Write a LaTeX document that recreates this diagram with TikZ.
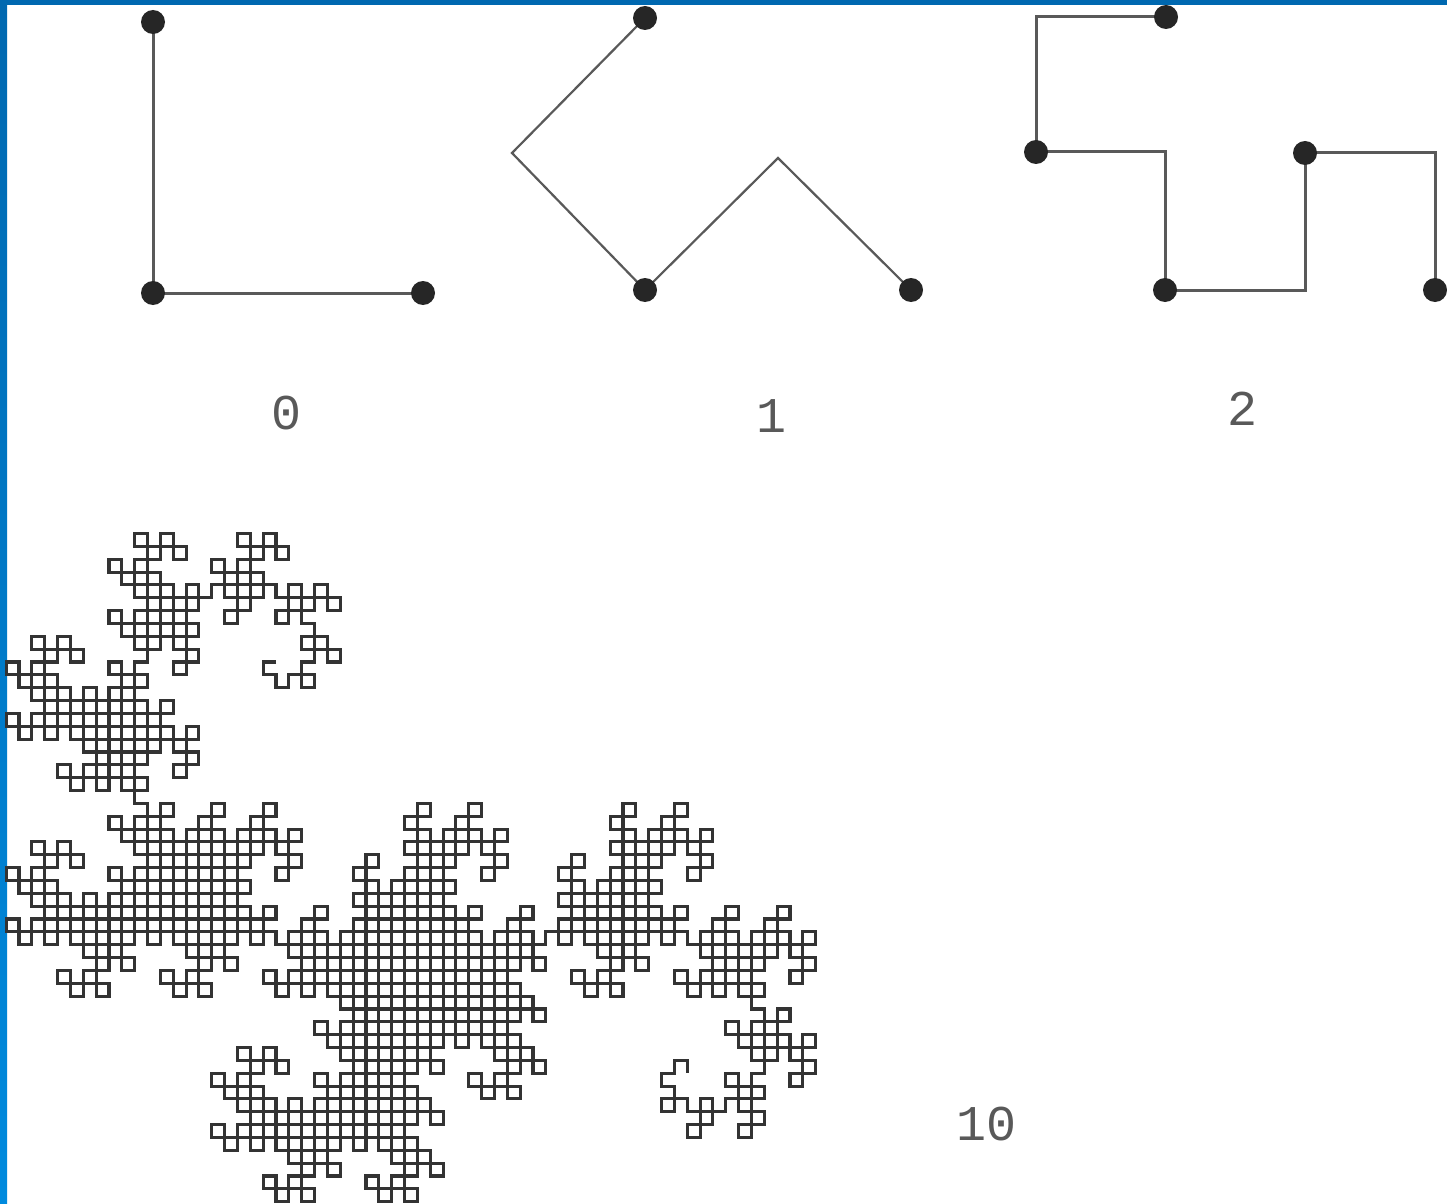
\documentclass[tikz,border=0pt]{standalone}
\usepackage{fontspec}
\newfontfamily\numfont{Liberation Mono}
\usetikzlibrary{positioning}

% turtle for the big curve
\newcount\dragdir
\newcount\dragodd
\newcount\dragtmp
\def\dragL{12.85}
\def\dragstrip{\ifodd\dragodd\else\divide\dragodd by 2 \expandafter\dragstrip\fi}
\def\dragsetdelta{\ifcase\dragdir
    \gdef\dragdx{\dragL}\gdef\dragdy{0}\or
    \gdef\dragdx{0}\gdef\dragdy{-\dragL}\or
    \gdef\dragdx{-\dragL}\gdef\dragdy{0}\or
    \gdef\dragdx{0}\gdef\dragdy{\dragL}\fi}
\def\dragturn#1{\dragodd=#1\relax\dragstrip
  \dragtmp=\dragodd \divide\dragtmp by 4 \multiply\dragtmp by 4
  \advance\dragodd by -\dragtmp
  \ifnum\dragodd=1 \global\advance\dragdir by 1 \else\global\advance\dragdir by 3 \fi
  \ifnum\dragdir>3 \global\advance\dragdir by -4 \fi
  \dragsetdelta}

\definecolor{frameblue}{RGB}{0,104,176}
\definecolor{frameblue2}{RGB}{0,138,222}

\begin{document}
\begin{tikzpicture}[x=0.5pt,y=-0.5pt,
  dot/.style={circle,fill=black!85,inner sep=0pt,minimum size=12pt},
  curve/.style={draw=black!65,line width=1.5pt},
  thincurve/.style={draw=black!65,line width=1.1pt},
  dragon/.style={draw=black!80,line width=1.55pt},
  lbl/.style={font=\numfont\fontsize{25}{25}\selectfont,text=black!65,inner sep=0pt}]
\useasboundingbox (0,0) rectangle (1447,1204);
\fill[white] (0,0) rectangle (1447,1204);
\shade[top color=frameblue,bottom color=frameblue2] (0,0) rectangle (7,1204);
\fill[frameblue] (0,0) rectangle (1447,5);

% step 0
\coordinate (a0) at (153,22);
\coordinate (a1) at (153,293);
\coordinate (a2) at (423,293);
\draw[curve] (a0) -- (a1) -- (a2);
\node[dot] (da0) at (a0) {};
\node[dot] (da1) at (a1) {};
\node[dot] (da2) at (a2) {};
\node[lbl] (la) at (287,413) {0};

% step 1
\coordinate (b0) at (645,18);
\coordinate (b1) at (512,153);
\coordinate (b2) at (645,290);
\coordinate (b3) at (778,158);
\coordinate (b4) at (911,290);
\draw[thincurve] (b0) -- (b1) -- (b2) -- (b3) -- (b4);
\node[dot] (db0) at (b0) {};
\node[dot] (db2) at (b2) {};
\node[dot] (db4) at (b4) {};
\node[lbl] (lb) at (771,416) {1};

% step 2
\coordinate (c0) at (1166,17);
\coordinate (c1) at (1036,17);
\coordinate (c2) at (1036,152);
\coordinate (c3) at (1165,152);
\coordinate (c4) at (1165,290);
\coordinate (c5) at (1305,290);
\coordinate (c6) at (1305,153);
\coordinate (c7) at (1435,153);
\coordinate (c8) at (1435,290);
\draw[curve] (c0) -- (c1) -- (c2) -- (c3) -- (c4) -- (c5) -- (c6) -- (c7) -- (c8);
\node[dot] (dc0) at (c0) {};
\node[dot] (dc2) at (c2) {};
\node[dot] (dc4) at (c4) {};
\node[dot] (dc6) at (c6) {};
\node[dot] (dc8) at (c8) {};
\node[lbl] (lc) at (1242,409) {2};

% step 10
\coordinate (s10) at (276,662);
\global\dragdir=2 \dragsetdelta
\draw[dragon] (s10) \foreach \k in {1,...,2048}{ -- ++(\dragdx,\dragdy) \pgfextra{\dragturn{\k}} };
\node[lbl] (ld) at (986,1124) {10};
\end{tikzpicture}
\end{document}
